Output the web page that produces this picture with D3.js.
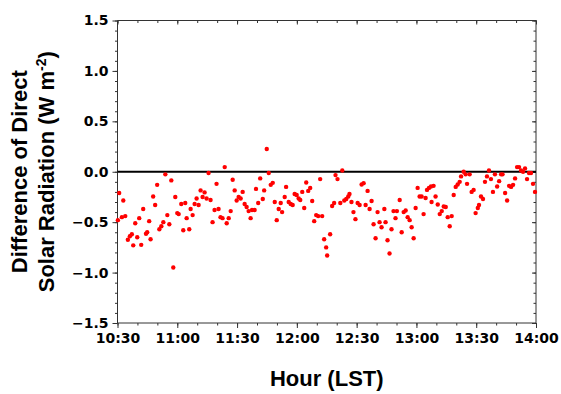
<!DOCTYPE html>
<html>
<head>
<meta charset="utf-8">
<script src="https://cdn.jsdelivr.net/npm/d3@7"></script>
<style>
  body { margin: 0; background: #fff; }
  svg { display: block; }
  .tick text { font-family: "DejaVu Sans", sans-serif; font-weight: bold; font-size: 14px; fill: #000; }
  .title { font-family: "Liberation Sans", Arial, sans-serif; font-weight: bold; font-size: 22px; fill: #000; }
</style>
</head>
<body>
<script>
// minutes after 10:30 LST
const minutesAfter1030 = [
  0.2, 0.85, 2.2, 2.9, 3.9, 5.2, 6.2, 7.2, 7.9, 8.9, 9.9, 10.9, 11.9, 12.9, 14.3, 14.9, 15.9, 16.6, 17.9, 18.9,
  19.9, 21, 22, 23, 24, 25, 26, 27, 28, 29, 30, 30.7, 32, 33, 34, 34.7,
  36, 36.7, 37.7, 38.7, 39.7, 40.7, 41.7, 42.7, 43.7, 44.7, 45.7, 46.7, 47.7, 48.7, 49.7, 50.7, 51.7, 52.7,
  53.8, 54.8, 55.8, 56.8, 57.8, 58.8, 59.8, 60.8, 61.8, 62.8, 63.8, 64.8, 65.8, 66.8, 67.5, 68.8, 69.5,
  70.6, 71.6, 72.9, 73.6, 74.9, 75.9, 76.9, 77.9, 78.9, 79.9, 80.9, 81.9, 82.6, 83.9, 84.6, 85.9, 86.9, 87.9,
  88.9, 89.9, 90.9, 91.7, 92.7, 93.7, 94.7, 95.7, 96.7, 97.7, 98.7, 99.7, 100.7, 101.7, 102.7, 103.7, 104.7, 105.2,
  106.7, 107.7, 108.7, 109.4, 110.4, 111.8, 112.8, 113.8, 114.8, 115.8, 116.4, 117.4, 118.4, 119.4, 120.5, 121.5,
  122.5, 123.5, 124.5, 125.5, 126.5, 127.5, 128.5, 129.5, 130.5, 131.5, 132.5, 133.9, 134.5, 135.5, 136.5, 137.5,
  138.5, 139.5, 140.2,
  141.6, 142.6, 143.6, 144.6, 145.6, 146.6, 147.6, 148.6, 149.6, 150.6, 151.6, 152.6, 153.6, 154.6, 155.3, 156.3,
  157.3, 157.6, 158.6, 159.6, 160.7, 161.7, 162.7, 163.7, 164.7, 165.7, 166.7, 167.7, 168.7, 169.7, 170.7, 171.7,
  172.4, 173.7, 174.7, 175.4,
  176.7, 177.7, 178.7, 179.7, 180.8, 181.4, 182.4, 183.4, 184.4, 185.4, 186.4, 187.4, 188.4, 189.4, 190.5, 191.5,
  192.5, 193.2, 194.5, 195.5, 196.5, 197.5, 198.5, 199.5, 200.5, 201.5, 202.5, 203.5, 204.5, 205.5, 206.5, 207.5,
  208.5, 209.5
];

// difference of direct solar radiation (W m-2)
const diffValues = [
  -0.48, -0.21, -0.45, -0.285, -0.44, -0.675, -0.64, -0.62, -0.73, -0.51, -0.65, -0.46, -0.725, -0.37, -0.615, -0.6, -0.49, -0.67, -0.245, -0.33,
  -0.13, -0.57, -0.54, -0.5, -0.026, -0.43, -0.52, -0.086, -0.95, -0.25, -0.41, -0.42, -0.32, -0.58, -0.31, -0.46,
  -0.57, -0.37, -0.43, -0.32, -0.265, -0.33, -0.185, -0.25, -0.205, -0.265, -0.013, -0.28, -0.5, -0.38, -0.12, -0.37, -0.45, -0.46,
  0.046, -0.51, -0.46, -0.39, -0.08, -0.185, -0.285, -0.25, -0.265, -0.2, -0.32, -0.35, -0.39, -0.46, -0.38, -0.38, -0.17,
  -0.31, -0.066, -0.27, -0.185, 0.225, -0.013, -0.13, -0.11, -0.3, -0.48, -0.37, -0.31, -0.4, -0.25, -0.15, -0.3, -0.32, -0.33,
  -0.22, -0.23, -0.265, -0.28, -0.2, -0.36, -0.106, -0.19, -0.16, -0.29, -0.49, -0.43, -0.44, -0.073, -0.44, -0.67, -0.75, -0.83,
  -0.62, -0.34, -0.31, -0.033, -0.073, -0.31, 0.013, -0.285, -0.27, -0.245, -0.22, -0.3, -0.4, -0.47, -0.31, -0.33,
  -0.126, -0.113, -0.33, -0.19, -0.37, -0.29, -0.52, -0.66, -0.4, -0.5, -0.55, -0.37, -0.5, -0.68, -0.81, -0.57,
  -0.39, -0.46, -0.39,
  -0.28, -0.6, -0.4, -0.385, -0.45, -0.48, -0.55, -0.66, -0.36, -0.16, -0.245, -0.245, -0.42, -0.26, -0.18, -0.16,
  -0.146, -0.3, -0.14, -0.245, -0.325, -0.42, -0.39, -0.345, -0.35, -0.45, -0.54, -0.44, -0.23, -0.15, -0.126, -0.1,
  -0.046, 0, -0.026, -0.12,
  -0.026, -0.2, -0.18, -0.41, -0.36, -0.33, -0.245, -0.27, -0.1, -0.046, 0.013, -0.073, -0.2, -0.026, -0.146, -0.093,
  -0.026, -0.026, -0.21, -0.285, -0.14, -0.15, -0.13, -0.066, 0.046, 0.046, 0.013, 0, 0.033, -0.073, -0.013, -0.013,
  -0.12, -0.2
];

const yTicks = [-1.5, -1.0, -0.5, 0.0, 0.5, 1.0, 1.5];
const xTickLabels = ["10:30", "11:00", "11:30", "12:00", "12:30", "13:00", "13:30", "14:00"];

const W = 561, H = 394;
const margin = {top: 20.5, right: 25, bottom: 71, left: 117.5};
const width = W - margin.left - margin.right;
const height = H - margin.top - margin.bottom;

const t0 = new Date(2000, 0, 1, 10, 30);
const t1 = new Date(2000, 0, 1, 14, 0);
const data = minutesAfter1030.map((m, i) => ({t: d3.timeMinute.offset(t0, 0) .getTime() + m * 60000, v: diffValues[i]}));

const svg = d3.select("body").append("svg")
  .attr("width", W)
  .attr("height", H);

const g = svg.append("g")
  .attr("transform", "translate(" + margin.left + "," + margin.top + ")");

const x = d3.scaleTime().domain([t0, t1]).range([0, width]);
const y = d3.scaleLinear().domain([-1.5, 1.5]).range([height, 0]);

const majorX = xTickLabels.map(s => {
  const p = s.split(":");
  return new Date(2000, 0, 1, +p[0], +p[1]);
});
const minorX = d3.timeMinute.every(10).range(t0, d3.timeMinute.offset(t1, 1));
const minorY = d3.range(-15, 16).map(k => k / 10);

// minor ticks
g.append("g")
  .attr("transform", "translate(0," + height + ")")
  .call(d3.axisBottom(x).tickValues(minorX).tickSize(2.5).tickFormat(""))
  .call(a => a.select(".domain").remove());
g.append("g")
  .call(d3.axisLeft(y).tickValues(minorY).tickSize(2.5).tickFormat(""))
  .call(a => a.select(".domain").remove());
g.append("g")
  .attr("transform", "translate(" + width + ",0)")
  .call(d3.axisLeft(y).tickValues(minorY).tickSize(2.5).tickFormat(""))
  .call(a => a.select(".domain").remove());
g.append("g")
  .call(d3.axisBottom(x).tickValues(minorX).tickSize(2.5).tickFormat(""))
  .call(a => a.select(".domain").remove());

// major axes
g.append("g")
  .attr("transform", "translate(0," + height + ")")
  .call(d3.axisBottom(x).tickValues(majorX).tickSize(5).tickPadding(5).tickFormat(d3.timeFormat("%H:%M")))
  .call(a => a.select(".domain").attr("d", "M0,0H" + width));
g.append("g")
  .call(d3.axisLeft(y).tickValues(yTicks).tickSize(5).tickPadding(4).tickFormat(d3.format(".1f")))
  .call(a => a.select(".domain").attr("d", "M0," + height + "V0"));
g.append("g")
  .attr("transform", "translate(" + width + ",0)")
  .call(d3.axisLeft(y).tickValues(yTicks).tickSize(4).tickFormat(""))
  .call(a => a.select(".domain").attr("d", "M0," + height + "V0"));
g.append("g")
  .call(d3.axisBottom(x).tickValues(majorX).tickSize(4).tickFormat(""))
  .call(a => a.select(".domain").attr("d", "M0,0H" + width));

g.selectAll(".tick line").attr("stroke", "#333");
g.selectAll(".domain").attr("stroke", "#333");
g.selectAll(".tick text").attr("fill", "#000");

// zero line
g.append("line")
  .attr("x1", 0).attr("x2", width)
  .attr("y1", y(0)).attr("y2", y(0))
  .attr("stroke", "#000")
  .attr("stroke-width", 2);

// points
g.selectAll("circle.pt")
  .data(data)
  .enter()
  .append("circle")
  .attr("class", "pt")
  .attr("cx", d => x(d.t))
  .attr("cy", d => y(d.v))
  .attr("r", 2.2)
  .attr("fill", "#ff0000");

// titles
svg.append("text")
  .attr("class", "title")
  .attr("x", margin.left + width / 2)
  .attr("y", 386)
  .attr("text-anchor", "middle")
  .text("Hour (LST)");

const yt = svg.append("text")
  .attr("class", "title")
  .attr("transform", "translate(27," + (margin.top + height / 2) + ") rotate(-90)")
  .attr("text-anchor", "middle");
yt.append("tspan").attr("x", 0).attr("y", 0).text("Difference of Direct");
const l2 = yt.append("tspan").attr("x", 0).attr("y", 27);
l2.append("tspan").text("Solar Radiation (W m");
l2.append("tspan").attr("dy", -8).attr("font-size", "14px").text("-2");
l2.append("tspan").attr("dy", 8).text(")");
</script>
</body>
</html>
